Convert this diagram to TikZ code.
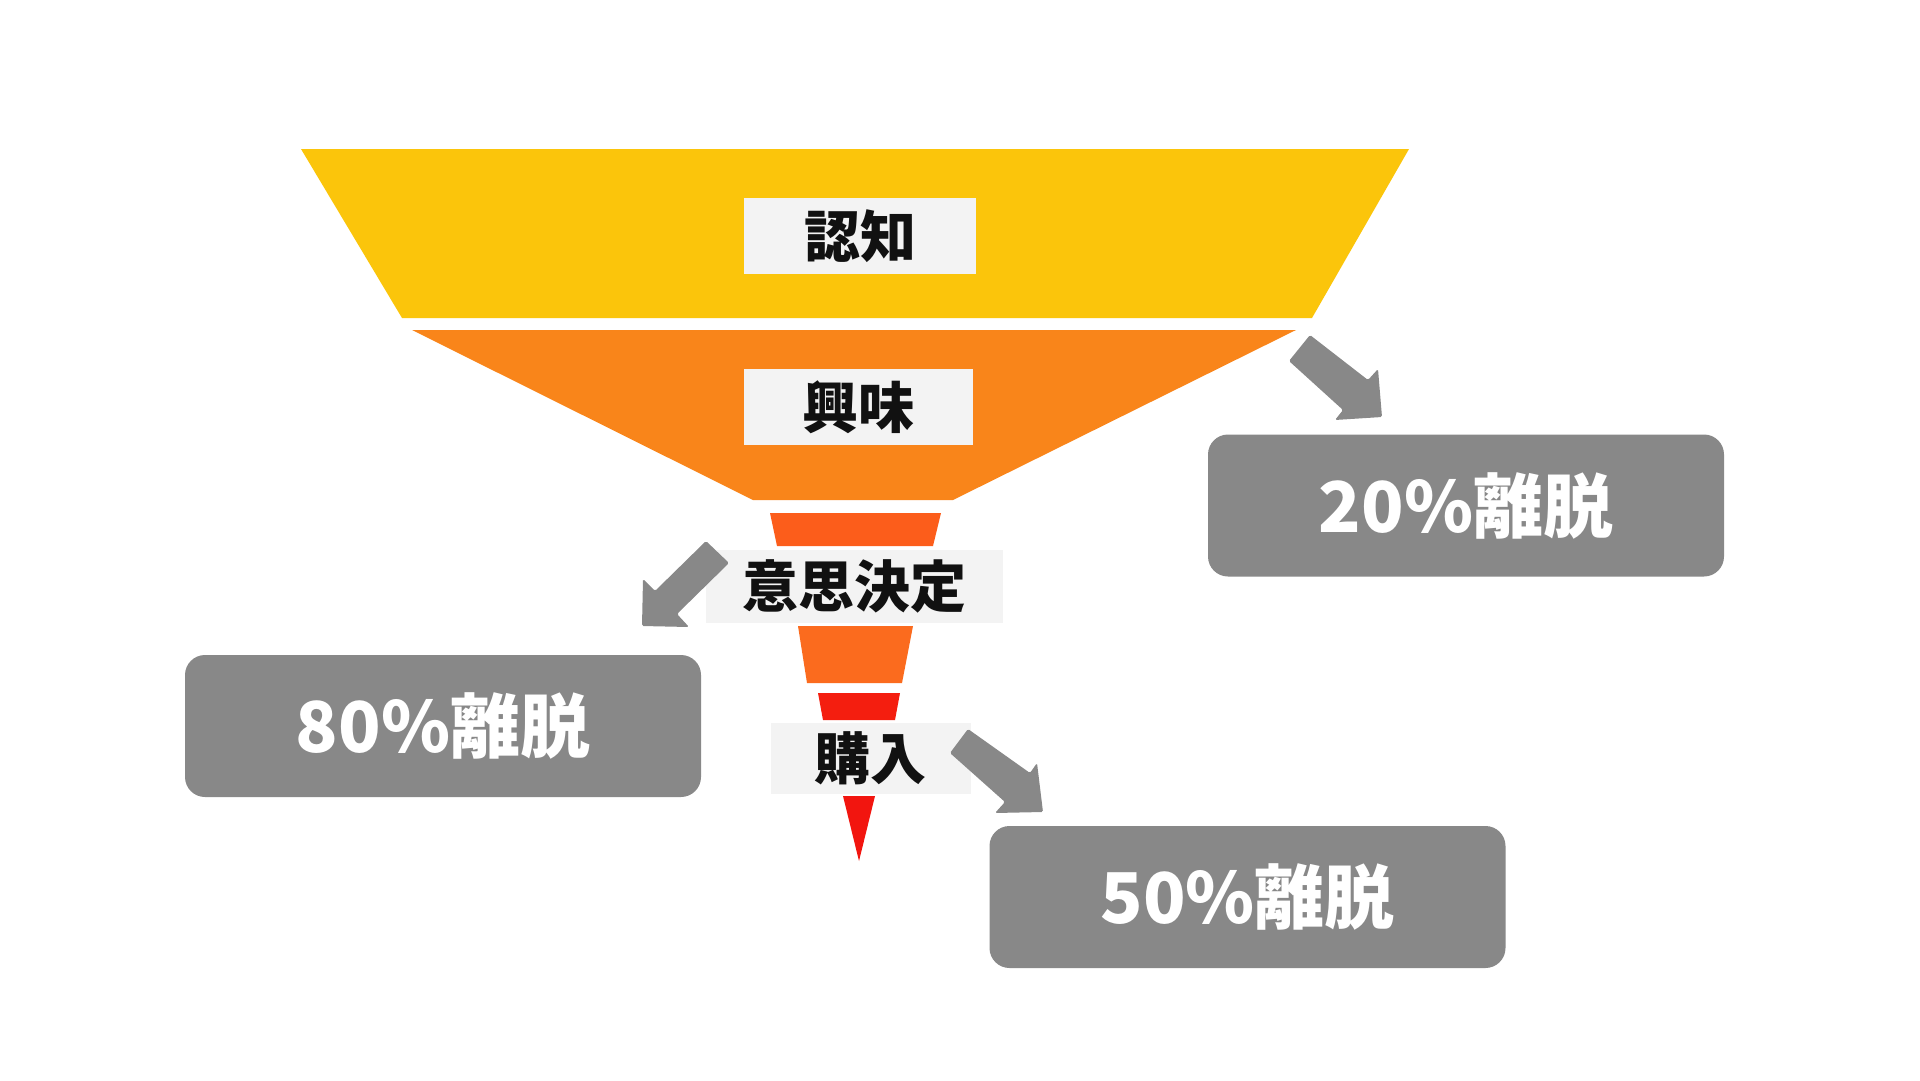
\documentclass[tikz,border=0pt]{standalone}
\usepackage{fontspec}
\newfontfamily\jp{Noto Sans CJK JP}
\definecolor{cYellow}{HTML}{FBC50B}
\definecolor{cOrange}{HTML}{F9851A}
\definecolor{cPthree}{HTML}{FC5D1B}
\definecolor{cPfour}{HTML}{FB6B1E}
\definecolor{cPfive}{HTML}{F41E0F}
\definecolor{cRed}{HTML}{F2150F}
\definecolor{cGray}{HTML}{888888}
\definecolor{cLabel}{HTML}{F3F3F3}
\definecolor{cInk}{HTML}{111111}
\tikzset{
  lbl/.style={fill=cLabel, inner sep=0pt, text=cInk, font=\jp\bfseries\fontsize{56}{60}\selectfont},
  dropbox/.style={fill=cGray, rounded corners=20pt, inner sep=0pt, text=white,
    minimum width=516pt, minimum height=142pt, font=\jp\bfseries\fontsize{70}{74}\selectfont},
  blockarrow/.style={fill=cGray, rounded corners=1.5pt}
}
\begin{document}
\begin{tikzpicture}[x=1pt,y=-1pt]
\useasboundingbox (0,0) rectangle (1920,1081);
\fill[white] (0,0) rectangle (1920,1081);
% funnel
\fill[cYellow] (301,149) -- (1409,149) -- (1312,318) -- (402,318) -- cycle;
\fill[cOrange] (412,330) -- (1296,330) -- (953,500) -- (753,500) -- cycle;
\fill[cPthree] (770,513) -- (941,513) -- (933,546) -- (777,546) -- cycle;
\fill[cPfour] (798,626) -- (913,626) -- (902,683) -- (807,683) -- cycle;
\fill[cPfive] (818,693) -- (900,693) -- (895,720) -- (823,720) -- cycle;
\fill[cRed] (843,796) -- (875,796) -- (859,861) -- cycle;
% labels
\node[lbl, minimum width=232pt, minimum height=76pt] (awareness) at (860,236) {認知};
\node[lbl, minimum width=229pt, minimum height=76pt] (interest) at (858,407) {興味};
\node[lbl, minimum width=297pt, minimum height=73pt] (decision) at (854.5,586.5) {意思決定};
\node[lbl, minimum width=200pt, minimum height=71pt] (purchase) at (870.5,758) {購入};
% drop-off boxes
\node[dropbox] (d20) at (1466,505.5) {20\%離脱};
\node[dropbox] (d80) at (443,726) {80\%離脱};
\node[dropbox] (d50) at (1247.5,897) {50\%離脱};
% block arrows
\fill[blockarrow] (1310,335) -- (1368,380) -- (1378,369) -- (1382,417) -- (1335,420) -- (1343,410) -- (1289,361) -- cycle;
\fill[blockarrow] (706,541) -- (655,591) -- (643,579) -- (642,626) -- (689,627) -- (677,614) -- (729,563) -- cycle;
\fill[blockarrow] (968,729) -- (1030,773) -- (1037,763) -- (1043,812) -- (995,813) -- (1005,802) -- (950,753) -- cycle;
\end{tikzpicture}
\end{document}
